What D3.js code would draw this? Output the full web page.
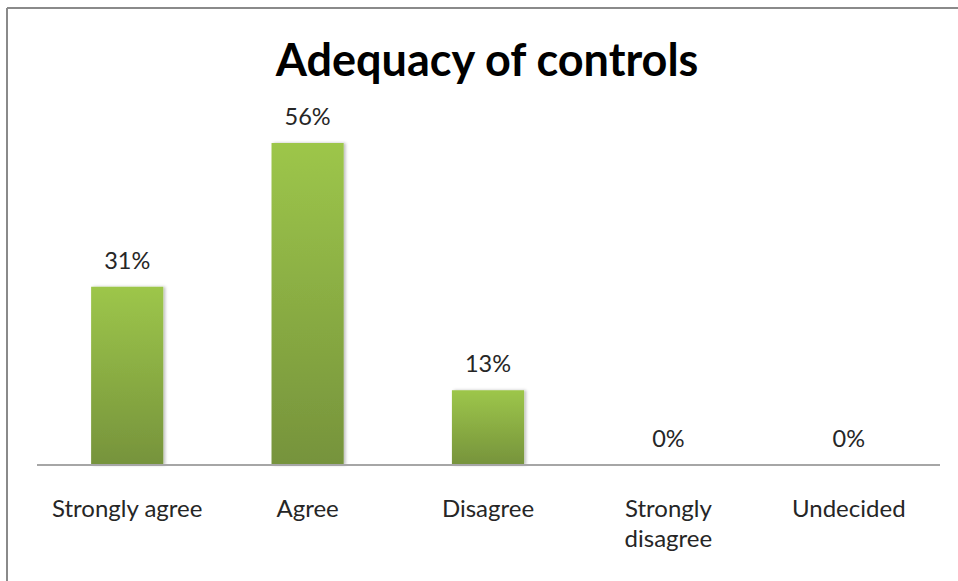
<!DOCTYPE html>
<html>
<head>
<meta charset="utf-8">
<script src="https://cdn.jsdelivr.net/npm/d3@7/dist/d3.min.js"></script>
<style>
html,body{margin:0;padding:0;background:#fff;}
svg{display:block;}
</style>
</head>
<body>
<svg id="chart" width="958" height="581"></svg>
<script>
const categories = ["Strongly agree", "Agree", "Disagree", "Strongly disagree", "Undecided"];
const categoryLines = [["Strongly agree"], ["Agree"], ["Disagree"], ["Strongly", "disagree"], ["Undecided"]];
const values = [31, 56, 13, 0, 0];
const valueLabels = ["31%", "56%", "13%", "0%", "0%"];
const title = "Adequacy of controls";

const svg = d3.select("#chart");
const W = 958, H = 581;
const font = "Lato, 'Open Sans', sans-serif";

// frame (top and left edges visible)
svg.append("line").attr("x1", 7).attr("x2", W).attr("y1", 8).attr("y2", 8)
  .attr("stroke", "#8a8a8a").attr("stroke-width", 2);
svg.append("line").attr("x1", 7).attr("x2", 7).attr("y1", 8).attr("y2", H)
  .attr("stroke", "#8a8a8a").attr("stroke-width", 2);

const defs = svg.append("defs");
const grad = defs.append("linearGradient").attr("id", "barGrad")
  .attr("x1", 0).attr("y1", 0).attr("x2", 0).attr("y2", 1);
grad.append("stop").attr("offset", "0%").attr("stop-color", "#9dc64a");
grad.append("stop").attr("offset", "100%").attr("stop-color", "#76933c");
const filt = defs.append("filter").attr("id", "shadow").attr("x", "-10%").attr("y", "-10%").attr("width", "130%").attr("height", "120%");
filt.append("feDropShadow").attr("dx", 2).attr("dy", 0).attr("stdDeviation", 1.5)
  .attr("flood-color", "#000").attr("flood-opacity", 0.25);

const x = d3.scaleBand().domain(categories).range([37, 939]).paddingInner(0.6).paddingOuter(0.3);
const y = d3.scaleLinear().domain([0, 60]).range([465, 120]);

svg.append("text").attr("x", 487).attr("y", 76).attr("text-anchor", "middle")
  .attr("font-family", font).attr("font-weight", "bold").attr("font-size", 45)
  .attr("fill", "#000").text(title);

svg.append("g").selectAll("rect").data(values).join("rect")
  .attr("x", (d, i) => x(categories[i]))
  .attr("width", x.bandwidth())
  .attr("y", d => y(d))
  .attr("height", d => y(0) - y(d))
  .attr("fill", "url(#barGrad)")
  .attr("filter", "url(#shadow)");

svg.append("line").attr("x1", 37).attr("x2", 940).attr("y1", y(0)).attr("y2", y(0))
  .attr("stroke", "#a6a6a6").attr("stroke-width", 2);

svg.append("g").selectAll("text").data(values).join("text")
  .attr("x", (d, i) => x(categories[i]) + x.bandwidth() / 2)
  .attr("y", d => y(d) - 18)
  .attr("text-anchor", "middle")
  .attr("font-family", font).attr("font-size", 23.5).attr("fill", "#262626")
  .text((d, i) => valueLabels[i]);

const lab = svg.append("g").selectAll("text").data(categoryLines).join("text")
  .attr("x", (d, i) => x(categories[i]) + x.bandwidth() / 2)
  .attr("y", 517)
  .attr("text-anchor", "middle")
  .attr("font-family", font).attr("font-size", 24).attr("fill", "#262626");
lab.selectAll("tspan").data(d => d).join("tspan")
  .attr("x", function() { return this.parentNode.getAttribute("x"); })
  .attr("dy", (d, j) => j === 0 ? 0 : 30)
  .text(d => d);
</script>
</body>
</html>
